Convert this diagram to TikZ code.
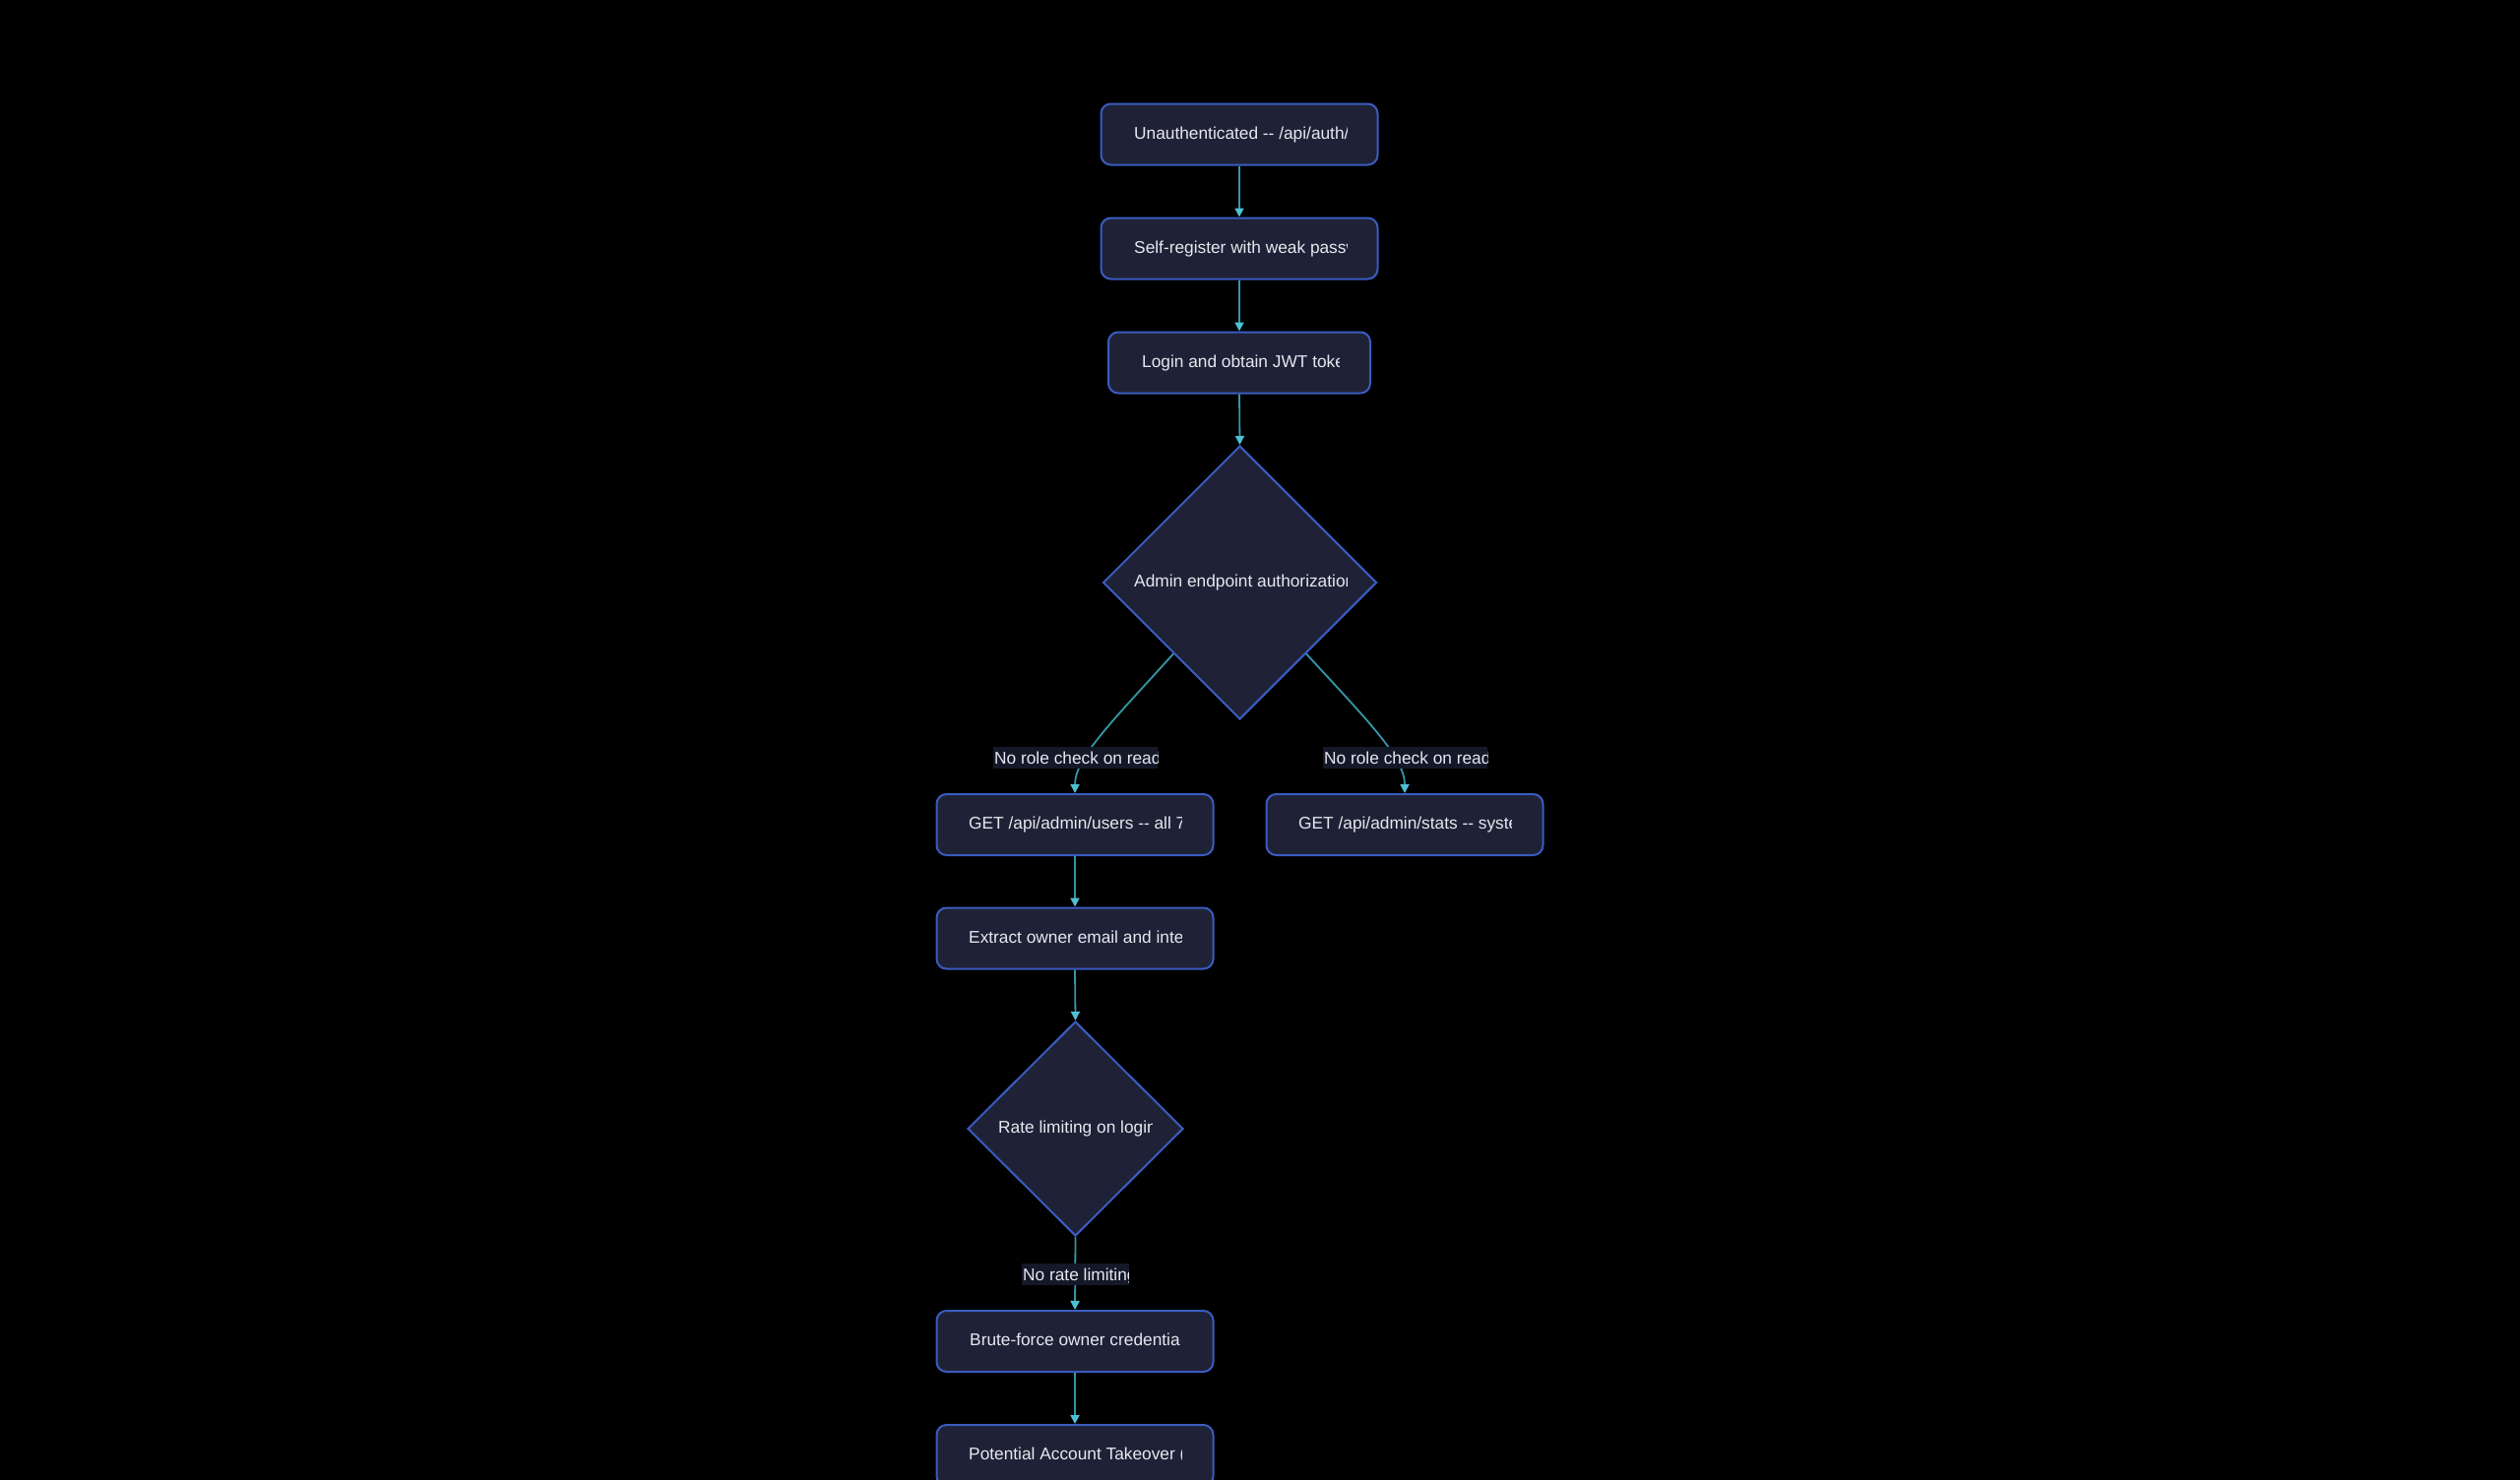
\documentclass[tikz,border=0pt]{standalone}
\usepackage{fontspec}
\setmainfont{Liberation Sans}
\usetikzlibrary{shapes.geometric,arrows.meta}
\definecolor{nodefill}{HTML}{1F2236}
\definecolor{nodeborder}{HTML}{3A5CC0}
\definecolor{edgecol}{HTML}{3596A6}
\definecolor{tipcol}{HTML}{4EC0D4}
\definecolor{labelbg}{HTML}{141828}
\definecolor{txtcol}{HTML}{E6E8F0}
\tikzset{
  box/.style={draw=nodeborder, line width=2pt, fill=nodefill, rounded corners=10pt,
    minimum width=281pt, minimum height=62pt, inner sep=0pt},
  dia/.style={draw=nodeborder, line width=2pt, fill=nodefill, shape=diamond, inner sep=0pt},
  txt/.style={text=txtcol, font=\fontsize{17.3pt}{20pt}\selectfont, inner sep=0pt},
  lblbg/.style={fill=labelbg, inner sep=0pt, minimum height=22pt},
  conn/.style={draw=edgecol, line width=1.8pt, -{Triangle[length=9pt,width=9pt,fill=tipcol,color=tipcol]}}
}
\newcommand\boxtext[5]{\begin{scope}\clip (#2,#4-22) rectangle (#3,#4+8);
  \node[txt,anchor=base west] (#1) at (#2,#4) {#5};\end{scope}}
\begin{document}
\begin{tikzpicture}[x=1pt,y=-1pt]
\useasboundingbox (0,0) rectangle (2560,1504);
\fill[black] (0,0) rectangle (2560,1504);
\clip (0,0) rectangle (2560,1504);
% nodes
\node[box] (b1) at (1259,136.5) {};
\node[box] (b2) at (1259,252.5) {};
\node[box, minimum width=266pt] (b3) at (1259,368.5) {};
\node[dia, minimum width=278pt, minimum height=278pt] (d1) at (1259.5,592) {};
\node[box] (u) at (1092,838) {};
\node[box] (s) at (1427,838) {};
\node[box] (ex) at (1092,953.5) {};
\node[dia, minimum width=219pt, minimum height=218pt] (d2) at (1092.5,1147) {};
\node[box] (br) at (1092,1363) {};
\node[box] (pt) at (1092,1479) {};
% texts
\boxtext{t1}{1152}{1368}{141}{Unauthenticated -{}- /api/auth/}
\boxtext{t2}{1152}{1368}{257}{Self-register with weak passw}
\boxtext{t3}{1160}{1360}{373}{Login and obtain JWT token}
\boxtext{t4}{1152}{1368}{596.5}{Admin endpoint authorization}
\boxtext{t7}{984}{1200}{842.5}{GET /api/admin/users -{}- all 7}
\boxtext{t8}{1319}{1535}{842.5}{GET /api/admin/stats -{}- syste}
\boxtext{t9}{984}{1200}{958}{Extract owner email and inte}
\boxtext{t10}{1014}{1170}{1151.5}{Rate limiting on login}
\boxtext{t12}{985}{1198}{1367.5}{Brute-force owner credentia}
\boxtext{t13}{984}{1200}{1483.5}{Potential Account Takeover (}
% connectors
\draw[conn] (b1.south) -- (b2.north);
\draw[conn] (b2.south) -- (b3.north);
\draw[conn] (b3.south) -- (d1.north);
\draw[conn] (d1.-133) .. controls (1130,733) and (1092,770) .. (u.north);
\draw[conn] (d1.-47) .. controls (1390,733) and (1427,770) .. (s.north);
\draw[conn] (u.south) -- (ex.north);
\draw[conn] (ex.south) -- (d2.north);
\draw[conn] (d2.south) -- (br.north);
\draw[conn] (br.south) -- (pt.north);
% edge labels
\node[lblbg, minimum width=167pt] (l1) at (1092.5,770) {};
\node[lblbg, minimum width=167pt] (l2) at (1427.5,770) {};
\node[lblbg, minimum width=109pt] (l3) at (1092,1295) {};
\boxtext{t5}{1010}{1176}{776.5}{No role check on read}
\boxtext{t6}{1345}{1511}{776.5}{No role check on read}
\boxtext{t11}{1039}{1146}{1301.5}{No rate limiting}
\end{tikzpicture}
\end{document}
